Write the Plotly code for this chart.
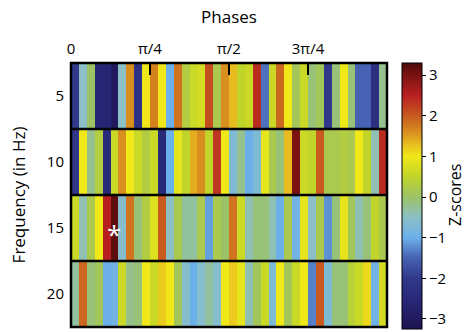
import numpy as np
import plotly.graph_objects as go

# ---------------- data ----------------
frequencies = [5, 10, 15, 20]
n_bins = 40
phase_ticks = [0, np.pi / 4, np.pi / 2, 3 * np.pi / 4]
phase_tick_labels = ["0", "π/4", "π/2", "3π/4"]

z_5hz = [-2.0, -0.5, 0.0, -2.6, -2.6, -3.0, -0.5, 1.6, -2.2, 1.0,
         1.7, 1.0, -1.0, 1.8, 0.3, 0.6, 0.7, 2.1, 0.2, 1.6,
         1.3, 0.5, 0.6, 2.4, -1.4, 0.6, 1.9, 1.0, 0.1, 0.6,
         -0.1, 0.1, -2.0, -0.1, 1.0, -0.1, -1.5, -1.5, -2.3, -0.2]
z_10hz = [-2.0, 1.0, -0.2, 0.3, -2.5, 0.6, 1.6, 1.0, 0.6, 0.3,
          0.6, -2.5, -1.0, 0.9, 0.5, 1.4, 1.6, 0.5, 2.3, 1.0,
          -0.7, -0.2, -1.0, -0.7, 0.9, 0.2, -0.1, 1.3, 3.0, 0.6,
          0.5, 2.0, 0.2, 0.2, 0.3, 0.2, 1.0, 0.5, -0.4, 2.4]
z_15hz = [0.6, -0.4, 0.2, 1.0, 2.5, 3.2, -0.6, 1.8, -0.1, 0.3,
          0.8, 2.0, -0.5, 0.2, -0.3, -0.3, 0.2, -1.1, 0.2, 0.0,
          1.8, 0.6, -0.4, -0.1, -0.1, -0.4, -1.0, 0.2, -0.9, 0.9,
          -0.5, 0.2, -1.2, -0.1, 0.9, 0.1, -0.4, -0.1, 0.5, 0.2]
z_20hz = [-0.3, 1.9, -0.1, 0.1, -1.0, -0.9, 0.6, -0.2, -0.1, 1.0,
          0.6, 1.2, 1.0, 0.1, -0.6, -1.0, -0.6, -0.3, -0.6, 1.0,
          1.2, 0.9, -0.4, 0.1, 0.6, -0.7, 1.0, 0.1, 0.6, 1.0,
          -1.3, 2.0, -0.7, -0.1, -0.1, 0.4, 0.6, 1.1, -0.9, 0.7]

# significant cell marked with an asterisk (bin index, frequency)
sig_bin = [5]
sig_freq = [15]

z_min, z_max = -3.25, 3.3
cbar_ticks = [-3, -2, -1, 0, 1, 2, 3]

# ---------------- figure ----------------
phase_centers = [(k + 0.5) * np.pi / n_bins for k in range(n_bins)]
Z = [z_5hz, z_10hz, z_15hz, z_20hz]

stops = [(-3.25, "#1c1450"), (-3.0, "#211a5e"), (-2.5, "#29297a"),
         (-2.0, "#31388a"), (-1.5, "#4762b2"), (-1.0, "#6cb0ea"),
         (-0.5, "#8cc0c6"), (0.0, "#9cc266"), (0.5, "#c0d42a"),
         (1.0, "#f0e818"), (1.3, "#e8bc20"), (1.6, "#d98e20"),
         (2.0, "#c85a20"), (2.5, "#b82020"), (3.0, "#7a1212"),
         (3.3, "#4e0a0c")]
colorscale = [[(v - z_min) / (z_max - z_min), c] for v, c in stops]

fig = go.Figure()
fig.add_trace(go.Heatmap(
    x=phase_centers, y=frequencies, z=Z,
    zmin=z_min, zmax=z_max, colorscale=colorscale,
    colorbar=dict(
        x=1.047, xanchor="left", xpad=0,
        y=0.496, yanchor="middle", ypad=0,
        lenmode="pixels", len=266, thickness=20,
        outlinecolor="black", outlinewidth=1,
        tickvals=cbar_ticks, ticks="outside", ticklen=4, tickcolor="black",
        tickfont=dict(size=15, color="black"),
    ),
    hoverinfo="skip",
))

# colorbar title placed as a rotated annotation
fig.add_annotation(xref="paper", yref="paper", x=1.215, y=0.5, text="Z-scores",
                   textangle=-90, showarrow=False, xanchor="center", yanchor="middle",
                   font=dict(size=16, color="black"))

for b, f in zip(sig_bin, sig_freq):
    fig.add_annotation(x=phase_centers[b], y=f, text="*", showarrow=False,
                       font=dict(size=26, color="white"), yshift=-6)

# band separators and frame
for yb in [7.5, 12.5, 17.5]:
    fig.add_shape(type="line", xref="paper", x0=0, x1=1, yref="y", y0=yb, y1=yb,
                  line=dict(color="black", width=2.5))
fig.add_shape(type="rect", xref="paper", yref="paper", x0=0, x1=1, y0=0, y1=1,
              line=dict(color="black", width=2.5))

fig.update_xaxes(
    side="top", range=[0, np.pi], tickvals=phase_ticks, ticktext=phase_tick_labels,
    ticks="inside", ticklen=12, tickwidth=2, tickcolor="black",
    tickfont=dict(size=15, color="black"), ticklabelstandoff=5,
    showgrid=False, zeroline=False,
    title=dict(text="Phases", font=dict(size=17, color="black"), standoff=10),
)
fig.update_yaxes(
    range=[22.5, 2.5], tickvals=frequencies, ticks="", showgrid=False, zeroline=False,
    tickfont=dict(size=15, color="black"), ticklabelstandoff=6,
    title=dict(text="Frequency (in Hz)", font=dict(size=17, color="black"), standoff=16),
)
fig.update_layout(
    width=466, height=332,
    margin=dict(l=71, r=79, t=63, b=5, autoexpand=False),
    paper_bgcolor="white", plot_bgcolor="white",
    font=dict(family="Open Sans, DejaVu Sans, sans-serif", color="black"),
)

fig.write_html("out.html")
